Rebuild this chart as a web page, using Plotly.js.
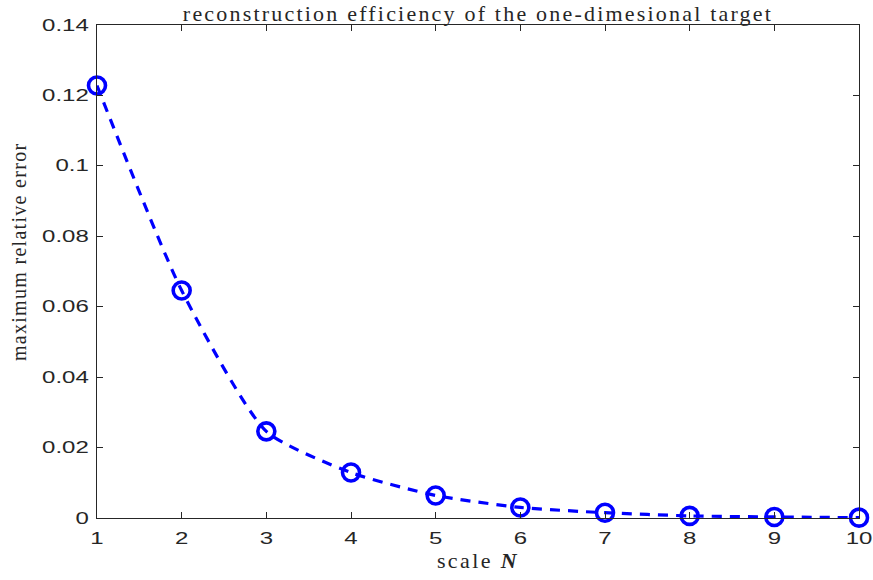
<!DOCTYPE html>
<html>
<head>
<meta charset="utf-8">
<script src="https://cdn.plot.ly/plotly-3.0.1.min.js"></script>
<style>
html,body{margin:0;padding:0;background:#fff;}
#chart{width:873px;height:580px;}
.gtitle{letter-spacing:2.2px;}
.xtitle{letter-spacing:2.4px;}
.annotation text{letter-spacing:1.3px;}
</style>
</head>
<body>
<div id="chart"></div>
<script>
const scaleN = [1, 2, 3, 4, 5, 6, 7, 8, 9, 10];
const maxRelError = [0.1228, 0.0646, 0.0246, 0.0129, 0.0064, 0.0030, 0.0015, 0.0006, 0.0003, 0.0001];
const xTicks = [1, 2, 3, 4, 5, 6, 7, 8, 9, 10];
const yTicks = [0, 0.02, 0.04, 0.06, 0.08, 0.1, 0.12, 0.14];
const yTickText = ['0', '0.02', '0.04', '0.06', '0.08', '0.1', '0.12', '0.14'];

const trace = {
  x: scaleN,
  y: maxRelError,
  type: 'scatter',
  mode: 'lines+markers',
  line: {color: '#0000ff', width: 3.2, dash: '10px,8px', shape: 'spline', smoothing: 0.6},
  marker: {symbol: 'circle-open', size: 17, color: '#0000ff', line: {color: '#0000ff', width: 3.6}},
  cliponaxis: false,
  showlegend: false
};

const serif = 'Liberation Serif, Times New Roman, serif';
const axisCommon = {
  showline: true, linecolor: '#262626', linewidth: 1,
  mirror: 'ticks', ticks: 'inside', ticklen: 6, tickcolor: '#262626', tickwidth: 1,
  showgrid: false, zeroline: false,
  tickfont: {family: 'Liberation Sans, Arial, sans-serif', size: 16, color: '#262626'}
};

const layout = {
  width: 873, height: 580,
  margin: {l: 97, r: 14, t: 25, b: 62},
  paper_bgcolor: '#fff', plot_bgcolor: '#fff',
  title: {
    text: 'reconstruction efficiency of the one-dimesional target',
    font: {family: serif, size: 22, color: '#262626'},
    x: 0.5475, xanchor: 'center', yref: 'container', y: 0.977, yanchor: 'middle'
  },
  xaxis: Object.assign({}, axisCommon, {
    range: [1, 10], tickvals: xTicks, ticktext: xTicks.map(String),
    ticklabelstandoff: 6,
    title: {text: 'scale <b><i>N</i></b>', standoff: 6,
      font: {family: serif, size: 22, color: '#262626'}}
  }),
  yaxis: Object.assign({}, axisCommon, {
    range: [0, 0.14], tickvals: yTicks, ticktext: yTickText,
    ticklabelstandoff: 4
  }),
  annotations: [{
    text: 'maximum relative error',
    xref: 'paper', yref: 'paper', x: 0, y: 0.54,
    xanchor: 'center', yanchor: 'middle', xshift: -78,
    textangle: -90, showarrow: false,
    font: {family: serif, size: 20, color: '#262626'}
  }]
};

Plotly.newPlot('chart', [trace], layout, {displayModeBar: false, staticPlot: true}).then(function (gd) {
  const sx = 1.5;
  gd.querySelectorAll('.ytick text').forEach(function (t) {
    const b = t.getBBox();
    const r = b.x + b.width;
    const base = t.getAttribute('transform') || '';
    t.setAttribute('transform', base + ' translate(' + r + ',0) scale(' + sx + ',1) translate(' + (-r) + ',0)');
  });
  gd.querySelectorAll('.xtick text').forEach(function (t) {
    const b = t.getBBox();
    const c = b.x + b.width / 2;
    const base = t.getAttribute('transform') || '';
    t.setAttribute('transform', base + ' translate(' + c + ',0) scale(' + sx + ',1) translate(' + (-c) + ',0)');
  });
});
</script>
</body>
</html>
